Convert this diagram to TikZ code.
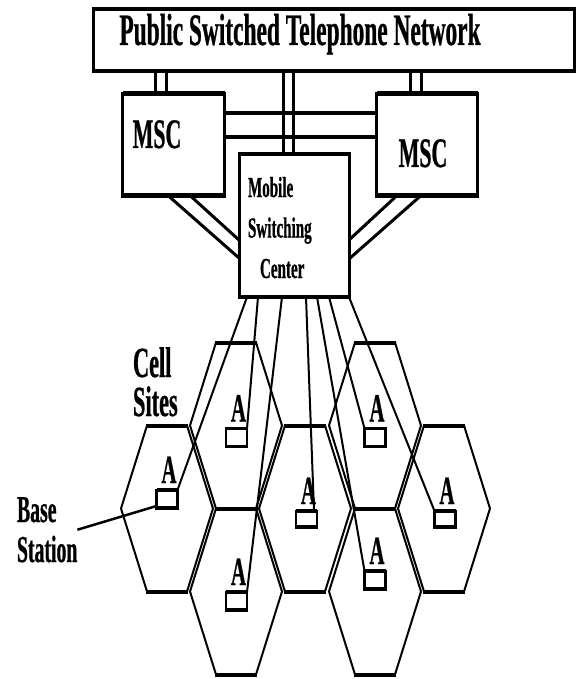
\documentclass[tikz,border=0pt]{standalone}
\usepackage{fontspec}
\newfontfamily\cond[FakeStretch=0.52,FakeBold=0.6]{Liberation Serif}
\newcommand\tf[2]{\cond\bfseries\fontsize{#1}{#2}\selectfont}
\newcommand\lstack[1]{\vtop{\halign{##\hfil\cr#1\crcr}}}
\begin{document}
\begin{tikzpicture}[x=1pt,y=-1pt,
  box/.style={draw,line width=3pt,inner sep=0pt,outer sep=0pt},
  hwire/.style={line width=4.5pt},
  vwire/.style={line width=3pt},
  cwire/.style={line width=2pt},
  bsbox/.style={draw,line width=2.5pt,minimum width=21pt,minimum height=18pt,inner sep=0pt,outer sep=0pt},
  lbl/.style={inner sep=0pt,outer sep=0pt},
  slant/.style={line width=2pt,line join=round},
  hedge/.style={line width=4pt},
  boxedge/.style={line width=4.5pt,shorten <=-1.5pt,shorten >=-1.5pt},
  hex/.pic={
    \draw[slant] (-20,-83) -- (-46,0) -- (-20,83) (20,-83) -- (46,0) -- (20,83);
    \draw[hedge] (-21,-83) -- (21,-83) (-21,83) -- (21,83);
  }]
\useasboundingbox (0,0) rectangle (577,679);

% cells
\pic at (167,508.5) {hex};
\pic at (236,425.5) {hex};
\pic at (236,591.5) {hex};
\pic at (305,508.5) {hex};
\pic at (375,425.5) {hex};
\pic at (375,591.5) {hex};
\pic at (444,508.5) {hex};

% boxes
\node[box,minimum width=481pt,minimum height=62pt] (pstn) at (333.5,40) {};
\node[box,minimum width=102pt,minimum height=102pt] (mscL) at (173.5,144.5) {};
\node[box,minimum width=101pt,minimum height=102pt] (mscR) at (427,144.5) {};
\node[box,minimum width=110pt,minimum height=143pt] (msc) at (294,225.5) {};
\foreach \n in {pstn,mscL,mscR,msc}
  \draw[boxedge] (\n.north west) -- (\n.north east) (\n.south west) -- (\n.south east);

% base stations
\node[bsbox] (bs1) at (167,499) {};
\node[bsbox] (bs2) at (236.5,437.5) {};
\node[bsbox,minimum height=16pt] (bs3) at (306.5,519) {};
\node[bsbox] (bs4) at (375,437.5) {};
\node[bsbox,minimum height=16pt] (bs5) at (445,519) {};
\node[bsbox] (bs6) at (236.5,601) {};
\node[bsbox] (bs7) at (375,580) {};
\foreach \n in {bs1,bs2,bs3,bs4,bs5,bs6,bs7}{
  \draw[line width=3.5pt,shorten <=-1.25pt,shorten >=-1.25pt] (\n.north west) -- (\n.north east) (\n.south west) -- (\n.south east);
  \node[lbl,anchor=base,font=\tf{40}{40}] (A\n) at ([xshift=2pt,yshift=7pt]\n.north) {A};
}

% PSTN to MSCs
\foreach \d in {-18.5,-7.5}
  \draw[vwire] ([xshift=\d pt]mscL.north) -- ([xshift=\d pt]mscL.north |- pstn.south);
\foreach \d in {-17,-6}
  \draw[vwire] ([xshift=\d pt]mscR.north) -- ([xshift=\d pt]mscR.north |- pstn.south);
\foreach \d in {-10.5,-0.5}
  \draw[vwire] ([xshift=\d pt]msc.north) -- ([xshift=\d pt]msc.north |- pstn.south);

% MSC to MSC
\foreach \d in {31.5,7.5}
  \draw[hwire] ([yshift=\d pt]mscL.east) -- ([yshift=\d pt]mscL.east -| mscR.west);

% MSCs to mobile switching center
\draw[vwire] ([xshift=-5.5pt]mscL.south) -- ([yshift=-32.5pt]msc.west);
\draw[vwire] ([xshift=16.5pt]mscL.south) -- ([yshift=-14.5pt]msc.west);
\draw[vwire] ([xshift=-30pt]mscR.south) -- ([yshift=-14.5pt]msc.east);
\draw[vwire] ([xshift=-6pt]mscR.south) -- ([yshift=-33.5pt]msc.east);

% center to base stations
\draw[cwire] ([xshift=-47pt]msc.south) -- (bs1.north east);
\draw[cwire] ([xshift=-36pt]msc.south) -- (bs2.north east);
\draw[cwire] ([xshift=-12pt]msc.south) -- (bs6.north east);
\draw[cwire] ([xshift=12pt]msc.south) -- ([xshift=-3pt]bs3.north east);
\draw[cwire] ([xshift=23pt]msc.south) -- (bs7.north west);
\draw[cwire] ([xshift=35pt]msc.south) -- (bs4.north west);
\draw[cwire] (msc.south east) -- (bs5.north west);

% labels
\node[lbl,anchor=base,font=\tf{45}{45}] (pstnT) at (300,45) {Public Switched Telephone Network};
\node[lbl,anchor=base,font=\tf{42}{42}] (mscLT) at (157,148) {MSC};
\node[lbl,anchor=base,font=\tf{42}{42}] (mscRT) at (423,167) {MSC};
\node[lbl,anchor=base west,font=\tf{29}{40.5}] (mscT) at (248,197) {\lstack{Mobile\cr Switching\cr \hskip12pt Center}};
\node[lbl,anchor=base west,font=\tf{43}{39}] (cellT) at (133,377) {\lstack{Cell\cr Sites}};
\node[lbl,anchor=base west,font=\tf{38}{40}] (bsT) at (17,522) {\lstack{Base\cr Station}};
\draw[line width=2.5pt] (bsT.east) -- ([yshift=2pt]bs1.south west);
\end{tikzpicture}
\end{document}
